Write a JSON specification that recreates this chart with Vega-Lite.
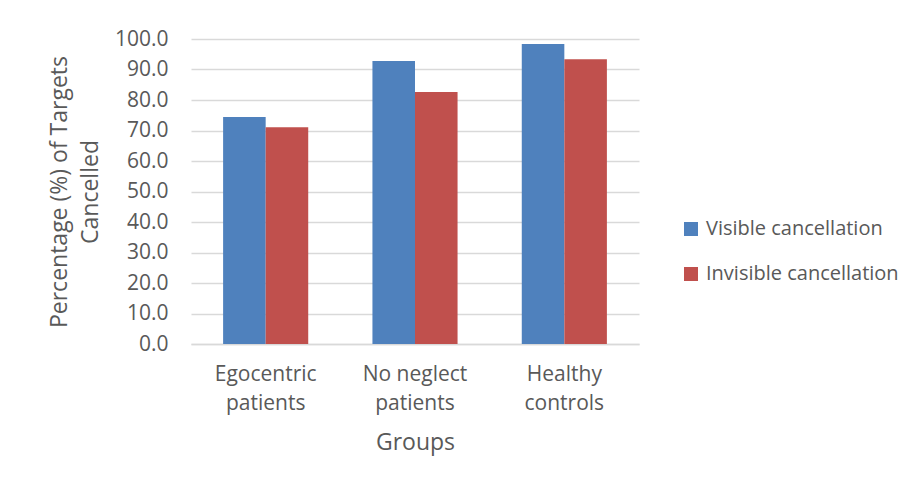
{
  "$schema": "https://vega.github.io/schema/vega-lite/v6.json",
  "width": 448,
  "height": 305,
  "autosize": {"type": "none"},
  "padding": {"left": 191, "top": 39, "right": 280, "bottom": 142},
  "background": "white",
  "data": {
    "values": [
      {"group": "Egocentric patients", "condition": "Visible cancellation", "pct": 74.4},
      {"group": "Egocentric patients", "condition": "Invisible cancellation", "pct": 71.1},
      {"group": "No neglect patients", "condition": "Visible cancellation", "pct": 92.8},
      {"group": "No neglect patients", "condition": "Invisible cancellation", "pct": 82.6},
      {"group": "Healthy controls", "condition": "Visible cancellation", "pct": 98.4},
      {"group": "Healthy controls", "condition": "Invisible cancellation", "pct": 93.4}
    ]
  },
  "mark": {"type": "bar"},
  "encoding": {
    "x": {
      "field": "group",
      "type": "nominal",
      "sort": ["Egocentric patients", "No neglect patients", "Healthy controls"],
      "scale": {"paddingInner": 0.43, "paddingOuter": 0.215},
      "title": "Groups",
      "axis": {
        "labelAngle": 0,
        "labelExpr": "[substring(datum.value, 0, lastindexof(datum.value, ' ')), substring(datum.value, lastindexof(datum.value, ' ') + 1)]",
        "labelFontSize": 21,
        "labelLineHeight": 29,
        "labelPadding": 19,
        "labelLimit": 0,
        "labelColor": "#595959",
        "ticks": false,
        "domainColor": "#d9d9d9",
        "domainWidth": 1.5,
        "titleFontSize": 23,
        "titleFontWeight": "normal",
        "titleColor": "#595959",
        "titlePadding": 18
      }
    },
    "xOffset": {
      "field": "condition",
      "type": "nominal",
      "sort": ["Visible cancellation", "Invisible cancellation"],
      "scale": {"paddingInner": 0, "paddingOuter": 0}
    },
    "y": {
      "field": "pct",
      "type": "quantitative",
      "scale": {"domain": [0, 100], "nice": false},
      "title": ["Percentage (%) of Targets", "Cancelled"],
      "axis": {
        "values": [0, 10, 20, 30, 40, 50, 60, 70, 80, 90, 100],
        "format": ".1f",
        "labelFontSize": 21,
        "labelPadding": 23,
        "labelColor": "#595959",
        "ticks": false,
        "domain": false,
        "gridColor": "#d9d9d9",
        "gridWidth": 1.5,
        "titleFontSize": 23,
        "titleFontWeight": "normal",
        "titleColor": "#595959",
        "titleLineHeight": 31,
        "titlePadding": 12
      }
    },
    "color": {
      "field": "condition",
      "type": "nominal",
      "sort": ["Visible cancellation", "Invisible cancellation"],
      "scale": {"domain": ["Visible cancellation", "Invisible cancellation"], "range": ["#4F81BD", "#C0504D"]},
      "legend": {
        "title": null,
        "orient": "none",
        "legendX": 490,
        "legendY": 180,
        "symbolType": "square",
        "symbolSize": 196,
        "symbolStrokeWidth": 0,
        "symbolOpacity": 1,
        "labelFontSize": 20,
        "labelLimit": 0,
        "labelColor": "#595959",
        "labelOffset": 5,
        "rowPadding": 25
      }
    }
  },
  "config": {
    "font": "Open Sans",
    "view": {"stroke": null}
  }
}
